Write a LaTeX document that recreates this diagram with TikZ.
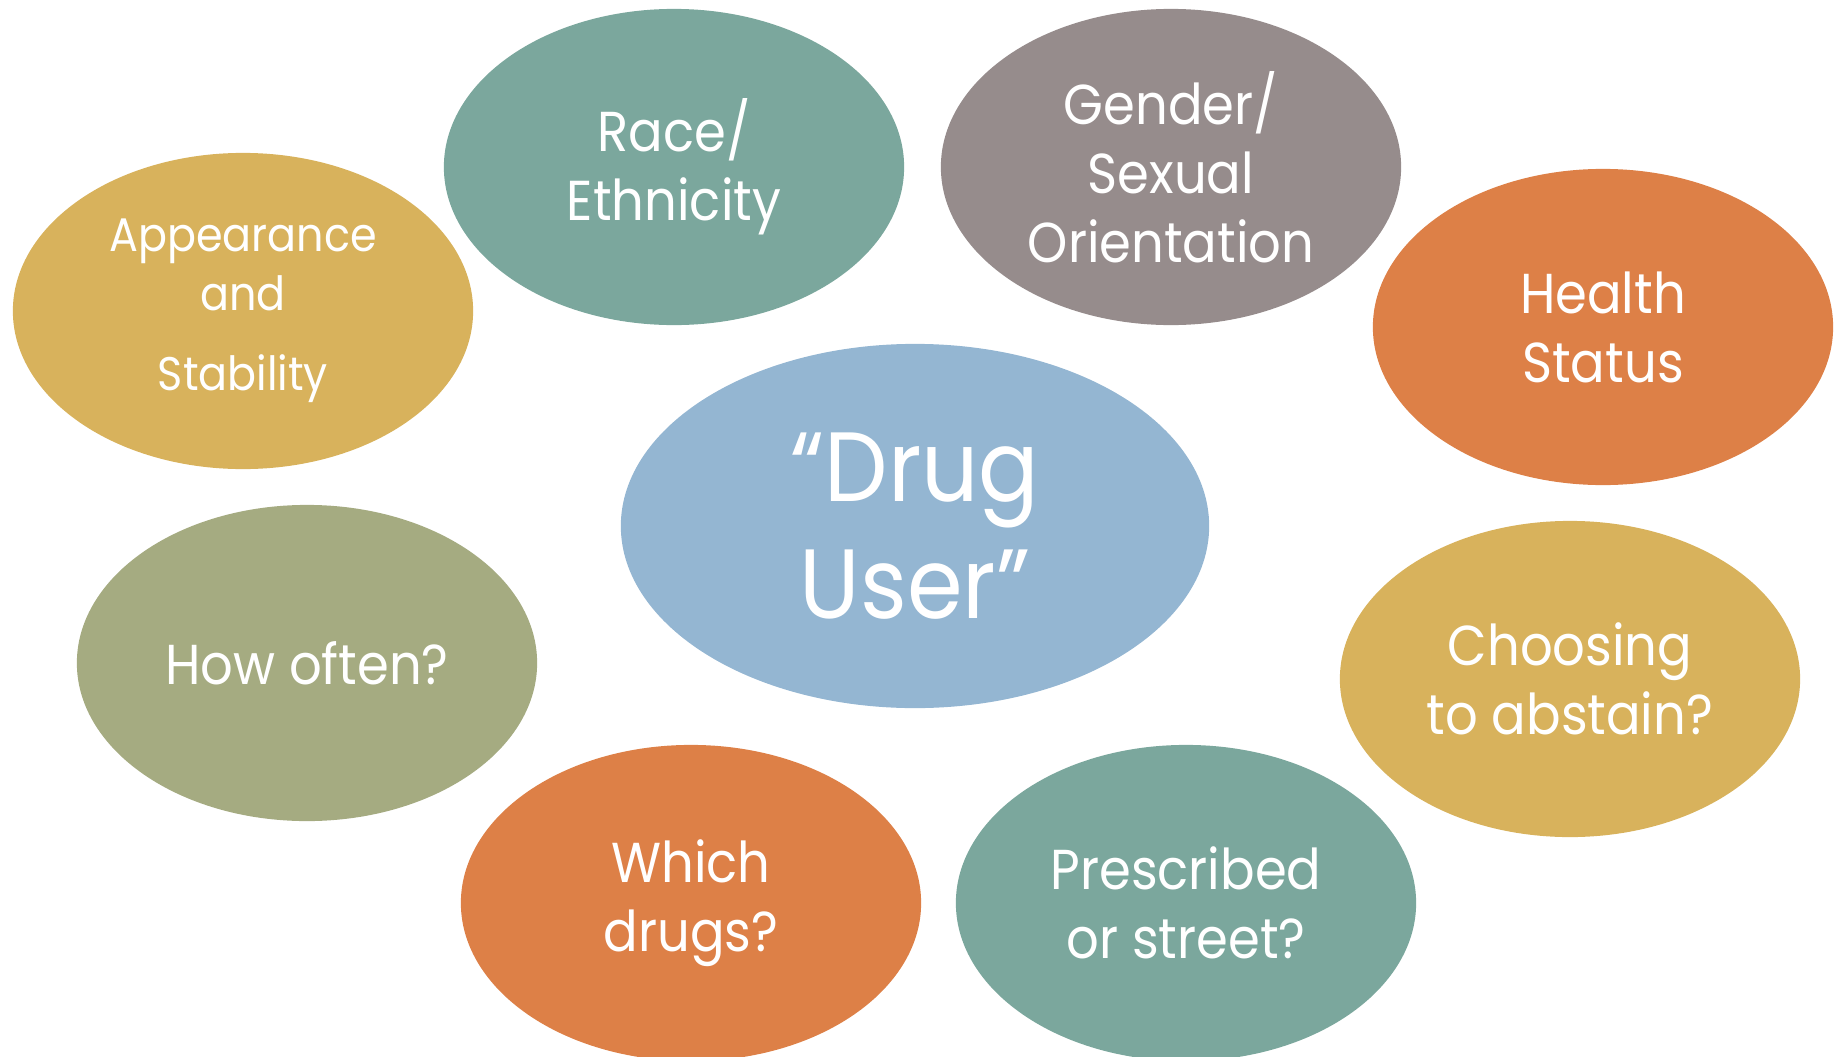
\documentclass[tikz,border=0pt]{standalone}
\usepackage{fontspec}
\setmainfont{Poppins}[FakeStretch = 0.91]
\usetikzlibrary{shapes.geometric}
\definecolor{userblue}{HTML}{94B6D2}
\definecolor{sagegreen}{HTML}{7BA79D}
\definecolor{mauvegray}{HTML}{968C8C}
\definecolor{burntorange}{HTML}{DD8047}
\definecolor{mustard}{HTML}{D8B25C}
\definecolor{olivegreen}{HTML}{A5AB81}

\begin{document}
\begin{tikzpicture}[x = 0.01cm, y = -0.01cm,
    bubble/.style = {ellipse, inner sep = 0pt, minimum width = 4.6cm, minimum height = 3.16cm,
                     text = white, align = center, font = \fontsize{16}{19.6}\selectfont},
    core/.style   = {bubble, minimum width = 5.88cm, minimum height = 3.64cm,
                     font = \fontsize{28}{33.3}\selectfont}]
  \clip (0,0) rectangle (1835,1057);
  \node[core, fill = userblue] (user) at (915,526) {``Drug\\User''};
  \node[bubble, fill = sagegreen]   (race)    at (674,167)  {Race/\\Ethnicity};
  \node[bubble, fill = mauvegray]   (gender)  at (1171,167) {Gender/\\Sexual\\Orientation};
  \node[bubble, fill = mustard, font = \fontsize{13.4}{16.6}\selectfont]
                                    (look)    at (243,311)  {Appearance\\and\\[6.2pt]Stability};
  \node[bubble, fill = burntorange] (health)  at (1603,327) {Health\\Status};
  \node[bubble, fill = olivegreen]  (often)   at (307,663)  {How often?};
  \node[bubble, fill = mustard]     (abstain) at (1570,679) {Choosing\\to abstain?};
  \node[bubble, fill = burntorange] (which)   at (691,903)  {Which\\drugs?};
  \node[bubble, fill = sagegreen]   (source)  at (1186,903) {Prescribed\\or street?};
\end{tikzpicture}
\end{document}
